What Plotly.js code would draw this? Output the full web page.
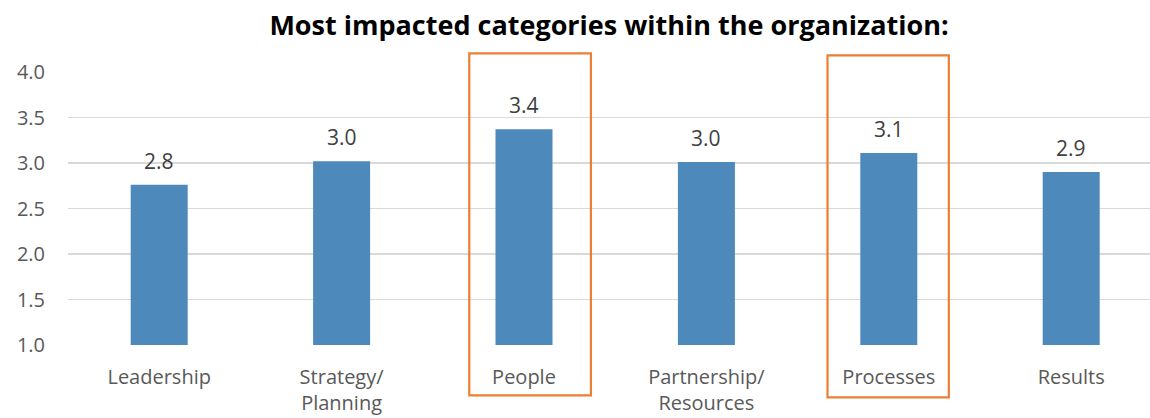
<!DOCTYPE html>
<html>
<head>
<meta charset="utf-8">
<script src="https://cdn.plot.ly/plotly-3.0.1.min.js"></script>
<style>html,body{margin:0;padding:0;background:#fff;}#chart{width:1150px;height:418px;}</style>
</head>
<body>
<div id="chart"></div>
<script>
const categories = ["Leadership", "Strategy/<br>Planning", "People", "Partnership/<br>Resources", "Processes", "Results"];
const values = [2.76, 3.02, 3.37, 3.01, 3.11, 2.90];
const yTicks = [1.0, 1.5, 2.0, 2.5, 3.0, 3.5, 4.0];
const yTickLabels = ["1.0", "1.5", "2.0", "2.5", "3.0", "3.5", "4.0"];
const highlighted = ["People", "Processes"];

const xRange = [-0.5, 5.432];
const yRange = [1, 4];

const trace = {
  type: "bar",
  x: categories,
  y: values,
  marker: {color: "#4E89BC"},
  hoverinfo: "x+y",
  cliponaxis: false
};

const annotations = categories.map((c, i) => ({
  x: c, y: values[i], xref: "x", yref: "y",
  text: values[i].toFixed(1),
  showarrow: false, yanchor: "middle", yshift: 24,
  font: {family: "Open Sans, sans-serif", size: 21, color: "#404040"}
}));

// highlight boxes: positioned in axis-domain fractions derived from category index
const boxPad = [{l: 0.30, r: 0.367, b: 0.447, t: 4.205}, {l: 0.336, r: 0.329, b: 0.425, t: 4.183}];
const fx = v => (v - xRange[0]) / (xRange[1] - xRange[0]);
const fy = v => (v - yRange[0]) / (yRange[1] - yRange[0]);
const shapes = highlighted.map((h, k) => {
  const i = categories.indexOf(h);
  const p = boxPad[k];
  return {
    type: "rect", xref: "x domain", yref: "y domain",
    x0: fx(i - p.l), x1: fx(i + p.r),
    y0: fy(p.b), y1: fy(p.t),
    line: {color: "#ED7D31", width: 2.2},
    fillcolor: "rgba(0,0,0,0)",
    layer: "above"
  };
});

const layout = {
  width: 1150, height: 418,
  margin: {l: 68, r: 0, t: 72, b: 73},
  paper_bgcolor: "#ffffff",
  plot_bgcolor: "#ffffff",
  showlegend: false,
  bargap: 0.6875,
  title: {
    text: "<b>Most impacted categories within the organization:</b>",
    font: {family: "Open Sans, sans-serif", size: 27, color: "#000000"},
    x: 0.5, xref: "paper", xanchor: "center",
    y: 0.94, yref: "container", yanchor: "middle"
  },
  xaxis: {
    type: "category",
    range: xRange,
    showgrid: false, zeroline: false, showline: false,
    ticks: "",
    ticklabelstandoff: 18,
    tickfont: {family: "Open Sans, sans-serif", size: 20, color: "#595959"}
  },
  yaxis: {
    range: yRange,
    tickvals: yTicks,
    ticktext: yTickLabels,
    showgrid: true, gridcolor: "#D9D9D9", gridwidth: 1.5,
    zeroline: false, showline: false,
    ticks: "",
    ticklabelstandoff: 22,
    tickfont: {family: "Open Sans, sans-serif", size: 20, color: "#595959"}
  },
  annotations: annotations,
  shapes: shapes
};

Plotly.newPlot("chart", [trace], layout, {displayModeBar: false, staticPlot: true});
</script>
</body>
</html>
